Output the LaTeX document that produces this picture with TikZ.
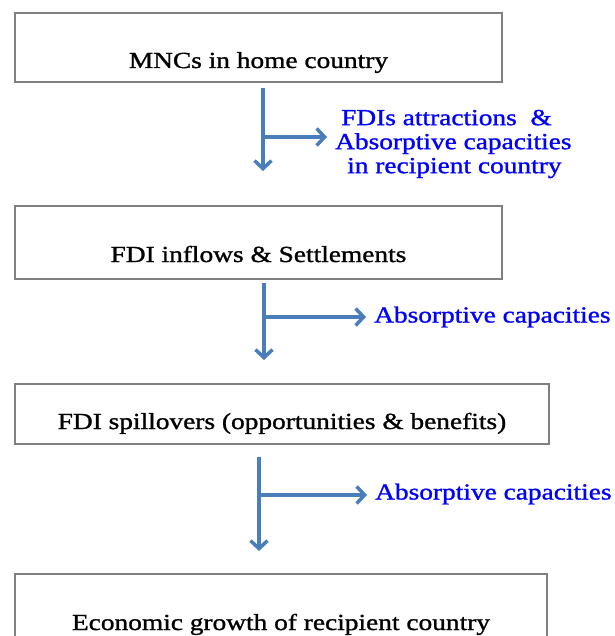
\documentclass[tikz,border=0pt]{standalone}
\usepackage{fontspec}
\setmainfont{Liberation Serif}[FakeStretch=1.19,FakeBold=1.2]
\usepackage{tikz}
\usetikzlibrary{arrows.meta}
\definecolor{flowblue}{RGB}{74,126,187}
\definecolor{boxgray}{RGB}{128,128,128}
\tikzset{
	stagebox/.style={draw=boxgray,line width=1.5pt,inner sep=0pt,text depth=0pt,font=\fontsize{23}{24}\selectfont},
	flow/.style={draw=flowblue,line width=3.5pt,-{Straight Barb[length=8pt,width=17pt]}},
	capacity/.style={anchor=west,text=blue,align=left,inner xsep=8pt,inner ysep=0pt,font=\fontsize{23}{24}\selectfont}
}
\begin{document}
\begin{tikzpicture}[x=1pt,y=-1pt]
	\useasboundingbox (0,0) rectangle (614,636);
	\clip (0,0) rectangle (614,636);
	\node[stagebox,minimum width=487pt,minimum height=69pt,text height=41pt] (home) at (258.5,47.5) {MNCs in home country};
	\node[stagebox,minimum width=487pt,minimum height=73pt,text height=39pt] (inflow) at (258.5,242.5) {FDI inflows \& Settlements};
	\node[stagebox,minimum width=534pt,minimum height=60pt,text height=30pt] (spill) at (282,414) {FDI spillovers (opportunities \& benefits)};
	\node[stagebox,minimum width=532pt,minimum height=106pt,text height=6pt] (growth) at (281,627) {Economic growth of recipient country};
	\node[capacity] (cap1) at (327,144) {\hspace{6pt}FDIs attractions \ \&\\Absorptive capacities\\\hspace{12pt}in recipient country};
	\node[capacity] (cap2) at (366,317) {Absorptive capacities};
	\node[capacity] (cap3) at (367,494) {Absorptive capacities};
	\coordinate (s1) at (263,88);
	\coordinate (e1) at (263,171);
	\coordinate (b1) at (263,137);
	\coordinate (s2) at (264,283);
	\coordinate (e2) at (264,360);
	\coordinate (b2) at (264,317);
	\coordinate (s3) at (259,457);
	\coordinate (e3) at (259,551);
	\coordinate (b3) at (259,495);
	\draw[flow] (s1) -- (e1);
	\draw[flow] (b1) -- (b1 -| cap1.west);
	\draw[flow] (s2) -- (e2);
	\draw[flow] (b2) -- (b2 -| cap2.west);
	\draw[flow] (s3) -- (e3);
	\draw[flow] (b3) -- (b3 -| cap3.west);
\end{tikzpicture}
\end{document}
